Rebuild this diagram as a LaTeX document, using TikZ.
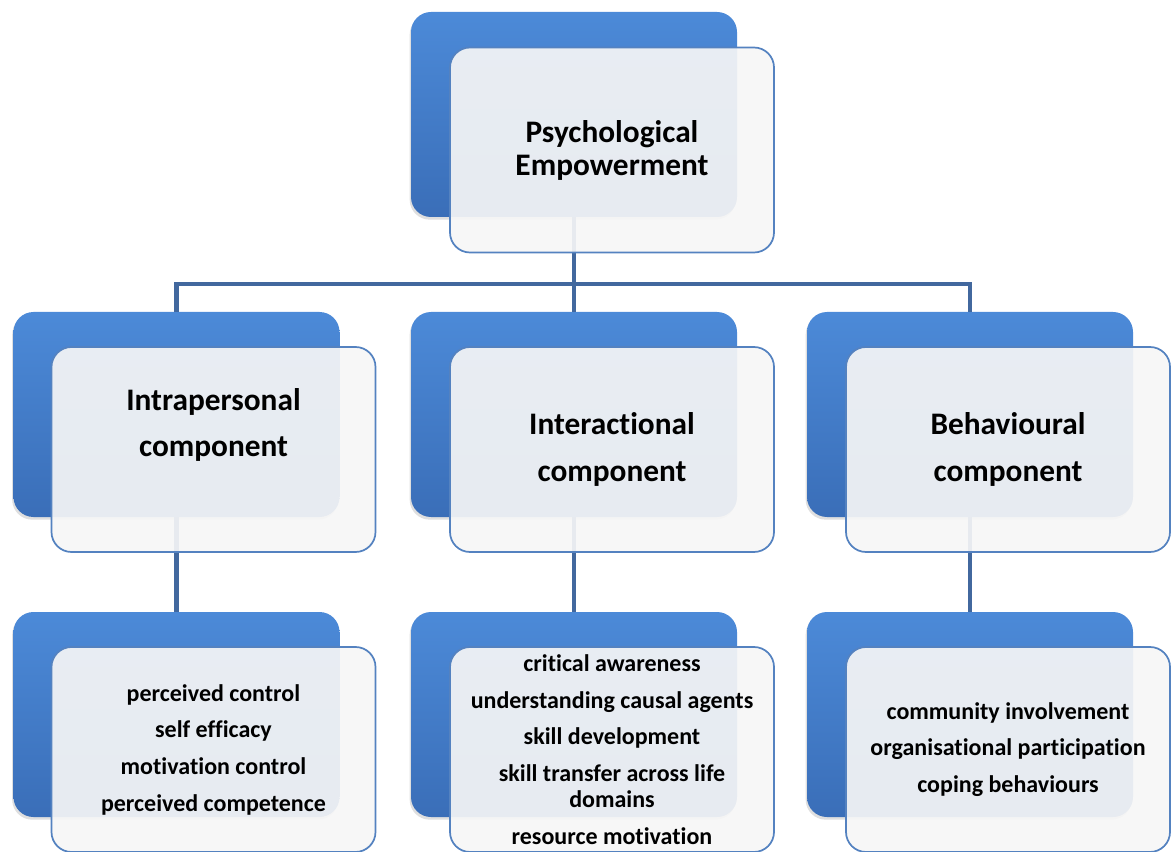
\documentclass[tikz,border=0pt]{standalone}
\usepackage{fontspec}
\setmainfont{Carlito}[Ligatures=CommonOff]
\usepackage{tikz}
\usetikzlibrary{positioning,shadows}
\definecolor{pebluetop}{RGB}{76,138,216}
\definecolor{pebluebot}{RGB}{58,110,184}
\definecolor{peedge}{RGB}{84,130,192}
\definecolor{pelink}{RGB}{66,104,158}
\definecolor{pepane}{RGB}{246,246,246}
\tikzset{
  backbox/.style={rounded corners=15pt, minimum width=244.5pt, minimum height=153.75pt,
    inner sep=0pt, outer sep=0pt, top color=pebluetop, bottom color=pebluebot,
    drop shadow={opacity=0.25, shadow xshift=-1pt, shadow yshift=-2pt}},
  frontbox/.style={rounded corners=15pt, minimum width=243pt, minimum height=153.75pt,
    inner sep=0pt, outer sep=0pt, draw=peedge, line width=1.3pt, fill=pepane, fill opacity=0.92,
    text opacity=1, align=center, font=\bfseries},
  toptxt/.style={font=\fontsize{23.5}{24.75}\selectfont\bfseries},
  midtxt/.style={align=center, font=\fontsize{23.5}{35}\selectfont\bfseries},
  lowtxt/.style={font=\fontsize{18}{19.5}\selectfont\bfseries},
  link/.style={pelink, line width=3.6pt},
}
\begin{document}
\begin{tikzpicture}[x=0.75pt,y=-0.75pt]
\useasboundingbox (0,0) rectangle (1172,852);
\node[backbox] (pe) at (574,114.5) {};
\node[backbox] (intra) at (176.5,414.5) {};
\node[backbox] (inter) at (574,414.5) {};
\node[backbox] (behav) at (970,414.5) {};
\node[backbox] (intralist) at (176.5,714.5) {};
\node[backbox] (interlist) at (574,714.5) {};
\node[backbox] (behavlist) at (970,714.5) {};
\coordinate (fork) at (574,284);
\draw[link] (pe.south) -- (fork);
\draw[link] (fork) -| (intra.north);
\draw[link] (fork) -- (inter.north);
\draw[link] (fork) -| (behav.north);
\foreach \a/\b in {intra/intralist, inter/interlist, behav/behavlist}{
  \draw[link] (\a.south) -- (\b.north);}
\node[frontbox, toptxt] (pef) at (612,150) {Psychological\\Empowerment};
\node[frontbox] (intraf) at (213.5,449.5) {};
\node[midtxt] (intrat) at (213.5,425) {Intrapersonal\\component};
\node[frontbox, midtxt] (interf) at (612,449.5) {Interactional\\component};
\node[frontbox, midtxt] (behavf) at (1008,449.5) {Behavioural\\component};
\node[frontbox, lowtxt] (intralistf) at (213.5,749.5)
  {perceived control\\[8pt] self efficacy\\[8pt] motivation control\\[8pt] perceived competence};
\node[frontbox, lowtxt] (interlistf) at (612,749.5)
  {critical awareness\\[8pt] understanding causal agents\\[8pt] skill development\\[8pt]
   skill transfer across life\\ domains\\[8pt] resource motivation};
\node[frontbox, lowtxt] (behavlistf) at (1008,749.5)
  {community involvement\\[8pt] organisational participation\\[8pt] coping behaviours};
\end{tikzpicture}
\end{document}
